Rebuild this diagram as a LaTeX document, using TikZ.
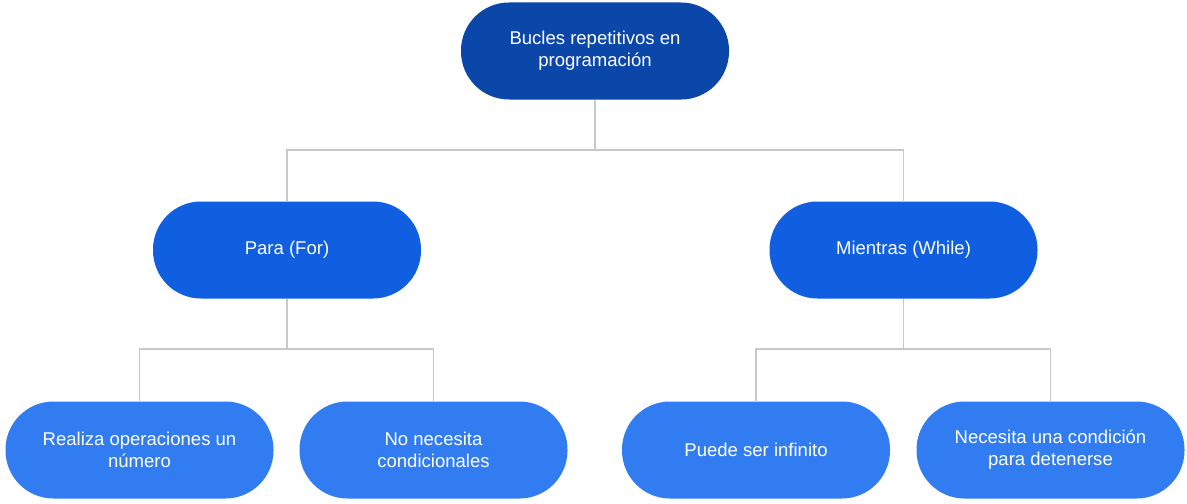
\documentclass[tikz,border=0pt]{standalone}
\usepackage{fontspec}
\setmainfont{Liberation Sans}
\definecolor{rootc}{HTML}{0B47A8}
\definecolor{midc}{HTML}{0F5FE0}
\definecolor{leafc}{HTML}{317CF0}
\definecolor{linec}{HTML}{C8C8C8}
\tikzset{
  pill/.style={rectangle, rounded corners=36pt, minimum width=201pt, minimum height=72.75pt,
    text=white, align=center, font=\fontsize{13.9}{16.4}\selectfont, inner sep=0pt},
  rootbox/.style={pill, fill=rootc},
  midbox/.style={pill, fill=midc},
  leafbox/.style={pill, fill=leafc},
  conn/.style={draw=linec, line width=1.1pt}
}
\begin{document}
\begin{tikzpicture}[x=0.75pt,y=-0.75pt]
\useasboundingbox (0,0) rectangle (1187,503);
\node[rootbox] (root) at (595,51) {Bucles repetitivos en\\programación};
\node[midbox] (para) at (287,250) {Para (For)};
\node[midbox] (mientras) at (903.5,250) {Mientras (While)};
\node[leafbox] (realiza) at (139.5,450) {Realiza operaciones un\\número};
\node[leafbox] (nonec) at (433.5,450) {No necesita\\condicionales};
\node[leafbox] (puede) at (756,450) {Puede ser infinito};
\node[leafbox] (necesita) at (1050.5,450) {Necesita una condición\\para detenerse};
\coordinate (j1) at (595,150);
\coordinate (j2) at (287,349);
\coordinate (j3) at (903.5,349);
\draw[conn] (root.south) -- (j1) -| (para.north);
\draw[conn] (j1) -| (mientras.north);
\draw[conn] (para.south) -- (j2) -| (realiza.north);
\draw[conn] (j2) -| (nonec.north);
\draw[conn] (mientras.south) -- (j3) -| (puede.north);
\draw[conn] (j3) -| (necesita.north);
\end{tikzpicture}
\end{document}
